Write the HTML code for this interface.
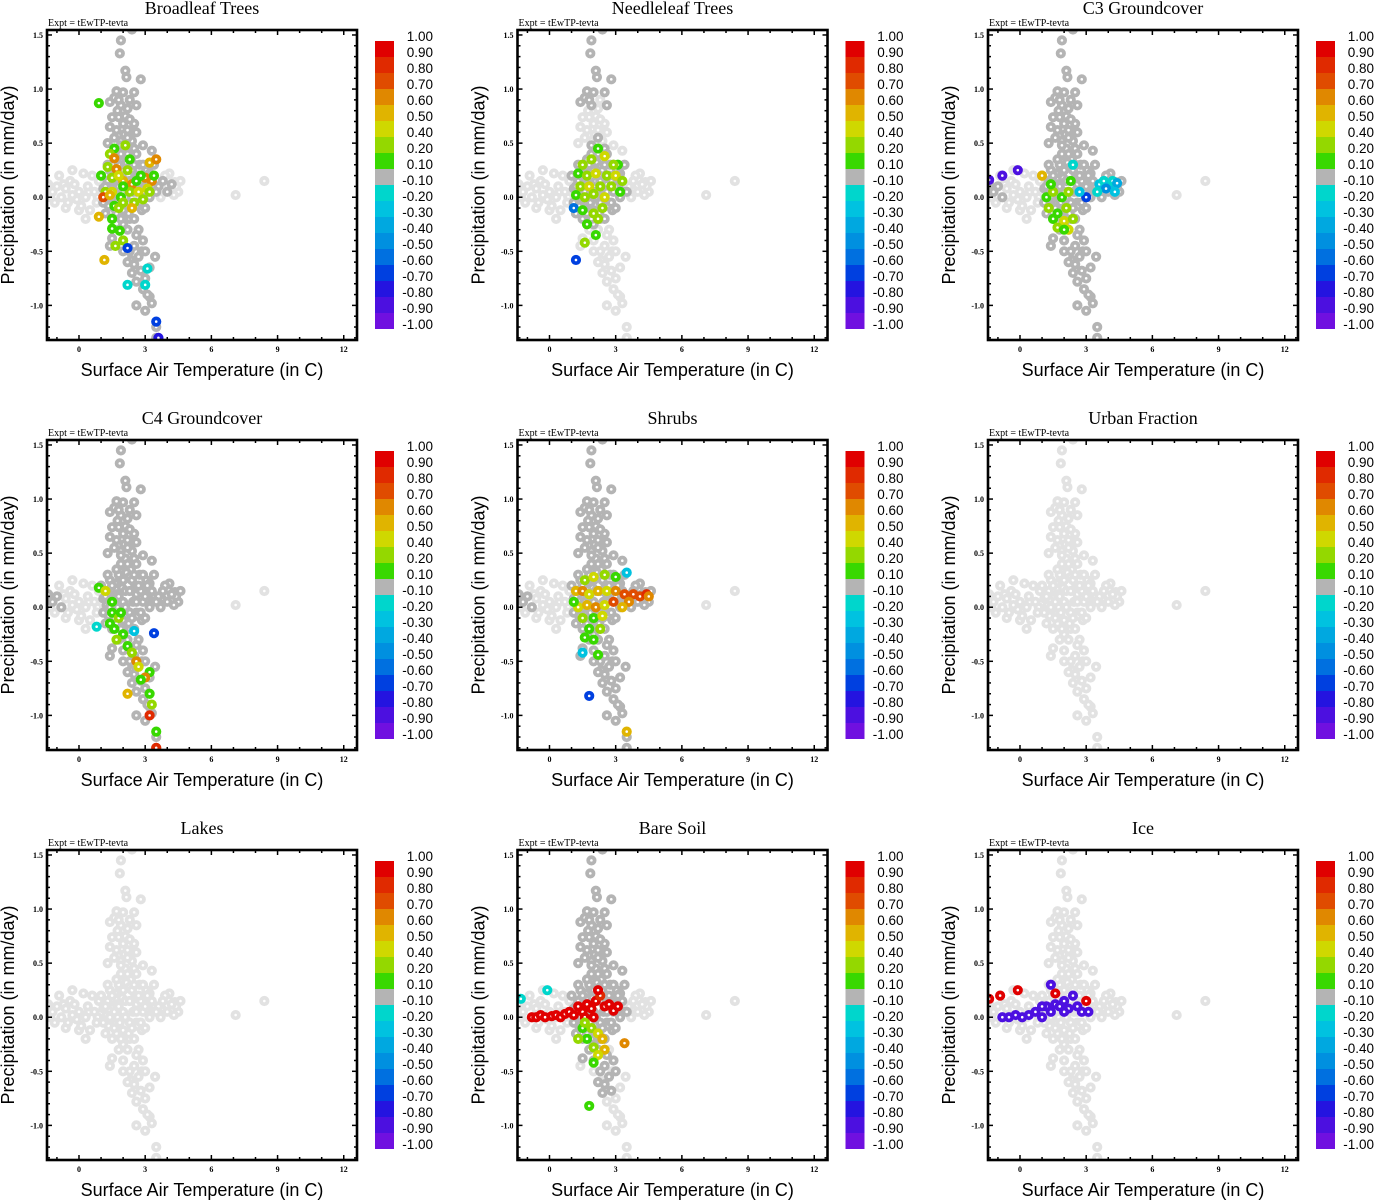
<!DOCTYPE html>
<html><head><meta charset="utf-8"><style>
html,body{margin:0;padding:0;background:#fff;width:1374px;height:1200px;overflow:hidden}
svg{display:block}
.ttl{font-family:"Liberation Serif",serif;font-size:18px}
.ex{font-family:"Liberation Serif",serif;font-size:10px}
.tk{font-family:"Liberation Serif",serif;font-size:8px;font-weight:bold}
.ax{font-family:"Liberation Sans",sans-serif;font-size:18px}
.cb{font-family:"Liberation Sans",sans-serif;font-size:13.5px}
</style></head><body>
<svg id="fig" width="1374" height="1200" xmlns="http://www.w3.org/2000/svg"></svg>
<script>
const titles=["Broadleaf Trees","Needleleaf Trees","C3 Groundcover","C4 Groundcover","Shrubs","Urban Fraction","Lakes","Bare Soil","Ice"];
const cbLabels=["1.00","0.90","0.80","0.70","0.60","0.50","0.40","0.20","0.10","-0.10","-0.20","-0.30","-0.40","-0.50","-0.60","-0.70","-0.80","-0.90","-1.00"];
const cbColors=["#e00000","#e02a00","#e04c00","#e08800","#e0b400","#cfd800","#94d800","#38d800","#b4b4b4","#00d6cc","#00c2e0","#00a8e0","#0090e0","#0070e0","#0040e0","#2414e0","#4c10e0","#7010e0"];
const xTicks=[0,3,6,9,12];
const yTicks=[1.5,1.0,0.5,0.0,-0.5,-1.0];
const yTickLabels=["1.5","1.0","0.5","0.0","-0.5","-1.0"];
// shared background cloud (T, P): core, extra core, upper, lower, right band, left band, outliers
const cloudT=[1.0,1.2,1.1,1.3,1.4,1.5,1.6,1.7,1.8,1.9,2.0,2.1,2.2,2.3,2.4,2.5,2.6,2.7,2.8,2.9,3.0,3.1,3.2,3.3,3.4,1.5,2.0,2.5,1.3,1.8,2.3,2.8,3.0,1.6,2.1,2.6,1.2,3.5,1.9,2.4,
1.1,1.4,1.7,2.0,2.3,2.6,2.9,3.2,1.25,1.55,1.85,2.15,2.45,2.75,3.05,3.35,1.35,1.65,1.95,2.25,2.55,2.85,3.15,1.45,1.75,2.05,2.35,2.65,2.95,1.9,2.2,2.5,1.7,2.0,2.3,2.6,
2.4,1.9,1.85,2.1,2.15,2.8,2.0,1.7,1.8,1.6,2.5,1.9,2.6,1.4,2.2,1.5,1.8,2.3,2.0,2.5,1.4,1.7,2.2,2.6,1.6,1.9,2.4,2.9,1.3,3.3,2.1,2.1,2.3,1.75,2.45,2.05,
1.8,2.2,2.6,2.0,2.5,2.9,1.5,2.3,2.7,2.2,2.5,3.0,2.4,2.8,2.6,3.0,2.9,3.1,3.2,3.3,2.6,3.0,3.5,3.5,3.45,2.0,1.4,3.2,2.7,2.35,2.85,
3.6,3.8,4.0,4.2,4.4,4.6,3.9,4.3,3.7,4.5,4.1,3.75,4.05,4.35,
-1.4,-1.2,-1.0,-0.8,-0.6,-0.5,-0.3,-0.2,0,0.1,0.3,0.4,0.5,0.7,0.8,0.9,-0.9,-0.3,0.2,-0.6,0,0.6,-1.1,-0.4,0.3,-0.7,-0.1,0.45,0.85,-1.3,
7.1,8.4];
const cloudP=[0.2,0.1,-0.05,0.3,0.0,0.2,-0.1,0.35,0.1,-0.2,0.25,0.0,0.4,0.15,-0.1,0.3,0.05,0.2,-0.05,0.3,0.1,0.2,0.0,0.15,0.3,-0.2,-0.25,-0.2,0.15,0.3,-0.05,0.15,-0.1,0.05,0.15,0.4,-0.15,0.05,0.4,0.25,
0.08,0.25,0.12,0.05,0.28,0.12,0.05,0.22,0.02,0.1,-0.05,0.32,0.05,0.3,0.25,0.05,-0.08,0.22,0.18,-0.15,0.2,-0.12,0.12,-0.02,0.0,0.38,0.35,-0.08,0.2,0.48,0.55,0.45,-0.15,-0.12,-0.2,-0.05,
1.55,1.45,1.33,1.17,1.11,1.09,0.97,0.98,0.9,0.92,0.97,0.85,0.85,0.88,0.82,0.74,0.74,0.72,0.68,0.68,0.65,0.62,0.62,0.6,0.55,0.52,0.52,0.48,0.5,0.43,0.45,0.75,0.9,0.8,0.6,0.58,
-0.3,-0.3,-0.35,-0.4,-0.45,-0.4,-0.38,-0.5,-0.55,-0.6,-0.62,-0.5,-0.7,-0.68,-0.78,-0.75,-0.85,-0.9,-0.92,-0.98,-1.0,-1.05,-1.2,-1.3,-0.55,-0.5,-0.45,-0.65,-0.3,-0.58,-0.5,
0.1,0.15,0.05,0.12,0.1,0.15,0.2,0.02,0.0,0.05,0.22,0.08,0.16,0.14,
0.12,0.05,0.1,0.0,0.08,-0.05,0.02,0.12,0.05,-0.08,0.0,0.1,-0.12,0.05,-0.05,0.15,0.2,0.25,0.22,-0.1,-0.12,0.2,-0.05,0.15,-0.2,0.12,-0.02,0.05,0.0,0.0,
0.02,0.15];
// number of leading cloud points drawn in the dark-gray (-0.1..0.1) class per panel
const darkN=[147,90,161,161,161,0,0,126,0];
const p1=[[0.9,0.87,0.1],[1.6,0.45,0.1],[2.1,0.48,0.2],[2.3,0.35,0.1],[1.4,0.4,0.2],[1.6,0.36,0.6],[3.2,0.32,0.5],[3.5,0.35,0.6],[1.3,0.28,0.2],[1.7,0.26,0.6],[3.0,0.18,0.6],[3.3,0.15,0.6],[1.0,0.2,0.1],[1.5,0.18,0.2],[2.0,0.15,0.5],[2.4,0.12,0.6],[2.8,0.2,0.1],[3.4,0.2,0.1],[1.2,0.05,0.2],[1.5,0.05,0.4],[1.9,0.0,0.1],[2.3,0.05,0.2],[2.7,0.05,0.4],[3.1,0.08,0.4],[1.1,0.0,0.7],[1.4,0.02,0.5],[1.6,-0.08,0.1],[2.0,-0.05,0.2],[2.5,-0.05,0.2],[2.9,-0.02,0.2],[2.4,-0.1,0.5],[1.8,-0.1,0.2],[0.9,-0.18,0.5],[1.5,-0.2,0.1],[1.5,-0.29,0.1],[1.85,-0.31,0.1],[2.0,-0.4,0.2],[1.65,-0.45,0.2],[1.15,-0.58,0.5],[2.2,-0.47,-0.7],[3.1,-0.66,-0.2],[2.2,-0.81,-0.2],[3.0,-0.81,-0.2],[3.5,-1.15,-0.7],[3.6,-1.3,-0.8],[2.0,0.1,0.1],[2.6,0.15,0.1],[1.8,0.2,0.4],[2.2,0.25,0.2],[3.2,0.05,0.2]];
const p2=[[2.2,0.45,0.1],[2.5,0.38,0.4],[1.9,0.35,0.2],[3.1,0.3,0.1],[1.5,0.3,0.2],[1.3,0.22,0.1],[1.7,0.2,0.2],[2.1,0.22,0.4],[2.6,0.2,0.2],[3.0,0.2,0.4],[3.3,0.15,0.2],[1.4,0.1,0.2],[1.8,0.1,0.4],[2.3,0.1,0.2],[2.8,0.1,0.2],[1.2,0.02,0.1],[1.6,0.0,0.2],[2.0,0.03,0.2],[2.5,0.0,0.4],[3.2,0.05,0.1],[1.1,-0.1,-0.6],[1.5,-0.12,0.1],[2.0,-0.15,0.2],[2.4,-0.1,0.2],[1.7,-0.25,0.1],[2.1,-0.35,0.1],[1.6,-0.42,0.2],[1.2,-0.58,-0.7],[2.2,-0.2,0.2],[2.9,0.3,0.2]];
const p3=[[-1.4,0.16,-0.9],[-0.8,0.2,-0.9],[-0.1,0.25,-0.9],[1.0,0.2,0.5],[3.6,0.12,-0.3],[3.8,0.15,-0.2],[4.0,0.1,-0.3],[4.2,0.15,-0.2],[4.4,0.13,-0.4],[3.9,0.08,-0.5],[4.3,0.05,-0.3],[3.5,0.05,-0.2],[1.2,0.0,0.1],[1.5,0.05,0.2],[1.9,0.0,0.1],[2.2,0.05,0.2],[1.3,-0.1,0.2],[1.7,-0.15,0.1],[2.1,-0.1,0.2],[1.5,-0.2,0.1],[2.0,-0.22,0.4],[1.7,-0.28,0.2],[2.2,-0.3,0.4],[2.0,-0.3,0.1],[2.4,-0.2,0.2],[3.0,0.0,-0.7],[2.7,0.05,-0.3],[2.4,0.3,-0.2],[2.3,0.15,0.1],[1.4,0.12,0.1]];
const p4=[[0.9,0.18,0.1],[1.2,0.15,0.4],[0.8,-0.18,-0.2],[1.5,-0.05,0.1],[1.8,-0.1,0.2],[1.4,-0.15,0.1],[1.6,-0.2,0.1],[2.0,-0.25,0.1],[1.7,-0.3,0.2],[2.5,-0.22,-0.3],[3.4,-0.24,-0.7],[2.2,-0.36,0.1],[2.4,-0.42,0.2],[2.6,-0.5,0.6],[2.7,-0.55,0.4],[3.2,-0.6,0.1],[3.0,-0.65,0.6],[2.8,-0.67,0.1],[2.2,-0.8,0.5],[3.2,-0.8,0.1],[3.3,-0.9,0.2],[3.2,-1.0,0.8],[3.5,-1.15,0.1],[3.5,-1.3,0.8],[1.5,0.05,0.1],[1.9,-0.05,0.1]];
const p5=[[1.6,0.25,0.2],[2.0,0.28,0.4],[2.5,0.3,0.2],[3.0,0.28,0.1],[3.5,0.32,-0.3],[1.2,0.15,0.5],[1.5,0.15,0.6],[1.8,0.12,0.4],[2.2,0.15,0.5],[2.6,0.15,0.4],[3.0,0.15,0.6],[3.4,0.12,0.7],[3.8,0.12,0.7],[4.1,0.1,0.7],[4.4,0.12,0.8],[4.5,0.1,0.6],[3.6,0.05,0.6],[1.3,0.0,0.4],[1.7,0.02,0.5],[2.1,0.0,0.6],[2.5,0.02,0.4],[2.9,0.05,0.7],[3.3,0.0,0.5],[1.5,-0.1,0.2],[2.0,-0.1,0.1],[2.4,-0.08,0.4],[1.8,-0.2,0.1],[2.3,-0.2,0.2],[2.0,-0.3,0.1],[1.6,-0.28,0.1],[1.5,-0.42,-0.3],[2.2,-0.44,0.1],[1.8,-0.82,-0.7],[3.5,-1.15,0.5],[1.1,0.05,0.1]];
const p6=[];
const p7=[];
const p8=[[-1.3,0.17,-0.2],[-0.1,0.25,-0.2],[-0.8,0.0,0.9],[-0.6,0.0,0.9],[-0.4,0.02,0.9],[-0.2,0.0,0.9],[0.1,0.01,0.9],[0.3,0.02,0.9],[0.5,0.0,0.9],[0.7,0.03,0.9],[0.9,0.05,0.9],[1.1,0.02,0.9],[1.3,0.1,0.9],[1.5,0.05,0.9],[1.7,0.12,0.9],[1.9,0.08,0.9],[2.1,0.15,0.9],[2.3,0.2,0.8],[2.5,0.1,0.9],[2.7,0.12,0.9],[2.9,0.06,0.9],[3.1,0.1,0.9],[2.2,0.25,0.9],[1.6,0.0,0.9],[2.0,0.0,0.9],[1.5,-0.1,0.1],[1.9,-0.1,0.2],[2.2,-0.15,0.4],[1.7,-0.2,0.1],[2.4,-0.2,0.5],[2.0,-0.28,0.2],[2.5,-0.3,0.5],[2.2,-0.35,0.4],[1.3,-0.2,0.2],[3.4,-0.24,0.6],[2.0,-0.42,0.1],[1.8,-0.82,0.1],[1.6,-0.05,0.2]];
const p9=[[-1.4,0.17,0.9],[-0.9,0.2,0.9],[-0.1,0.25,0.9],[1.6,0.22,0.9],[3.0,0.15,0.9],[-0.8,0.0,-0.9],[-0.5,0.0,-0.9],[-0.2,0.02,-0.9],[0.1,0.0,-0.9],[0.4,0.02,-0.9],[0.7,0.05,-0.9],[1.0,0.0,-0.9],[1.2,0.1,-0.9],[1.4,0.05,-0.9],[1.6,0.12,-0.9],[1.8,0.1,-0.9],[2.0,0.15,-0.9],[2.2,0.08,-0.9],[2.4,0.2,-0.9],[1.4,0.3,-0.9],[2.6,0.1,-0.9],[2.8,0.05,-0.9],[3.1,0.05,-0.9],[1.0,0.1,-0.9],[2.0,0.05,-0.9]];
const panels=[p1,p2,p3,p4,p5,p6,p7,p8,p9];

const NS="http://www.w3.org/2000/svg";
const fig=document.getElementById('fig');
function mk(tag,attrs,parent){const e=document.createElementNS(NS,tag);for(const k in attrs)e.setAttribute(k,attrs[k]);parent.appendChild(e);return e;}
const X0=47,X1=357,Y0=30,Y1=340,TMIN=-1.45,TMAX=12.6,PMIN=-1.32,PMAX=1.546;
const sx=t=>X0+(t-TMIN)/(TMAX-TMIN)*(X1-X0);
const sy=p=>Y1-(p-PMIN)/(PMAX-PMIN)*(Y1-Y0);
function colorOf(v){const vals=cbLabels.map(Number);for(let k=0;k<18;k++){if(v>=vals[k+1]-1e-9)return cbColors[k];}return cbColors[17];}
function slug(s){return s.toLowerCase().replace(/[^a-z0-9]+/g,'-').replace(/^-|-$/g,'');}
const R=3.2,SW=3.8;

titles.forEach((title,i)=>{
  const ox=(i%3)*470.5, oy=Math.floor(i/3)*410;
  const g=mk('g',{transform:`translate(${ox},${oy})`},fig);
  
  
  const t=mk('text',{x:202,y:14,'text-anchor':'middle',class:'ttl'},g);t.textContent=title;
  
  
  const ex=mk('text',{x:48,y:26,class:'ex'},g);ex.textContent='Expt = tEwTP-tevta';
  
  
  const clip='clip'+i;
  const cp=mk('clipPath',{id:clip},g);mk('rect',{x:X0,y:Y0,width:X1-X0,height:Y1-Y0},cp);
  const pts=mk('g',{'clip-path':`url(#${clip})`},g);
  
  
  for(let j=cloudT.length-1;j>=0;j--){
    const c=mk('circle',{cx:sx(cloudT[j]),cy:sy(cloudP[j]),r:R,fill:'#fff',stroke:j<darkN[i]?'#b4b4b4':'#e2e2e2','stroke-width':SW},pts);
    
    
  }
  panels[i].forEach(d=>{
    const c=mk('circle',{cx:sx(d[0]),cy:sy(d[1]),r:R,fill:'#fff',stroke:colorOf(d[2]),'stroke-width':SW},pts);
    
    
  });
  const box=mk('rect',{x:X0,y:Y0,width:X1-X0,height:Y1-Y0,fill:'none',stroke:'#000','stroke-width':2.6},g);
  
  
  for(let v=-1;v<=12;v++){
    const maj=xTicks.includes(v),L=maj?5:3;
    mk('line',{x1:sx(v),x2:sx(v),y1:Y1,y2:Y1-L,stroke:'#000','stroke-width':1.5},g);
    mk('line',{x1:sx(v),x2:sx(v),y1:Y0,y2:Y0+L,stroke:'#000','stroke-width':1.5},g);
  }
  xTicks.forEach(v=>{const tx=mk('text',{x:sx(v),y:Y1+12,'text-anchor':'middle',class:'tk'},g);tx.textContent=String(v);
    
    });
  for(let k=-13;k<=15;k++){
    const v=k/10,maj=(k%5===0),L=maj?5:3;
    mk('line',{x1:X0,x2:X0+L,y1:sy(v),y2:sy(v),stroke:'#000','stroke-width':1.5},g);
    mk('line',{x1:X1,x2:X1-L,y1:sy(v),y2:sy(v),stroke:'#000','stroke-width':1.5},g);
  }
  yTicks.forEach((v,k)=>{const ty=mk('text',{x:X0-4,y:sy(v)+3,'text-anchor':'end',class:'tk'},g);ty.textContent=yTickLabels[k];
    
    });
  const xl=mk('text',{x:202,y:376,'text-anchor':'middle',class:'ax'},g);xl.textContent='Surface Air Temperature (in C)';
  
  
  const yl=mk('text',{x:0,y:0,'text-anchor':'middle',class:'ax',transform:'translate(14,185) rotate(-90)'},g);yl.textContent='Precipitation (in mm/day)';
  
  
  const cb=mk('g',{},g);
  
  
  cbColors.forEach((c,k)=>{const r=mk('rect',{x:375,y:41+16*k,width:19,height:16,fill:c},cb);
    
    });
  cbLabels.forEach((s,k)=>{const tl=mk('text',{x:433,y:41+16*k,'text-anchor':'end',class:'cb'},cb);tl.textContent=s;
    
    });
});
</script>
</body></html>
